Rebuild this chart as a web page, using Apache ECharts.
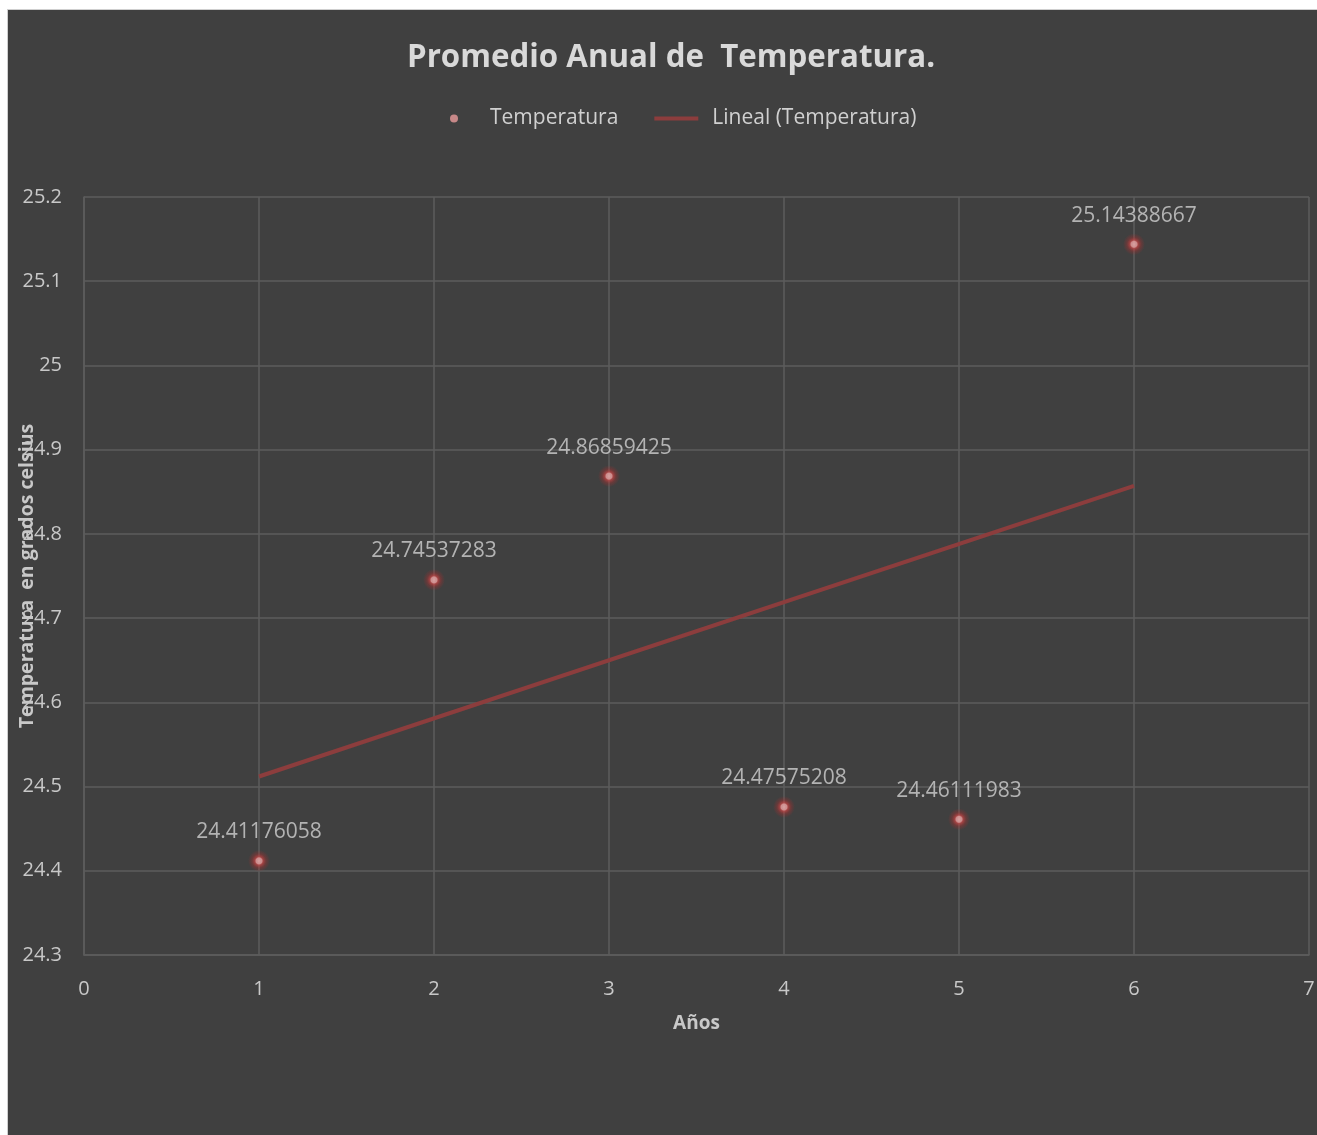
<!DOCTYPE html>
<html>
<head>
<meta charset="utf-8">
<script src="https://cdn.jsdelivr.net/npm/echarts@6/dist/echarts.min.js"></script>
<style>
  html, body { margin: 0; padding: 0; background: #ffffff; }
  #bg { position: absolute; left: 7px; top: 9px; width: 1310px; height: 1126px; background: #404040; border-left: 1px solid #cfcfcf; border-top: 1px solid #cfcfcf; box-sizing: border-box; }
  #chart { position: absolute; left: 0; top: 0; width: 1317px; height: 1135px; }
</style>
</head>
<body>
<div id="bg"></div>
<div id="chart"></div>
<script>
const years = [1, 2, 3, 4, 5, 6];
const temperatures = [24.41176058, 24.74537283, 24.86859425, 24.47575208, 24.46111983, 25.14388667];
const xTicks = [0, 1, 2, 3, 4, 5, 6, 7];
const yTicks = [24.3, 24.4, 24.5, 24.6, 24.7, 24.8, 24.9, 25, 25.1, 25.2];

// Linear trendline (least squares) from the data
const n = years.length;
const mx = years.reduce((a, b) => a + b, 0) / n;
const my = temperatures.reduce((a, b) => a + b, 0) / n;
let sxy = 0, sxx = 0;
for (let i = 0; i < n; i++) { sxy += (years[i] - mx) * (temperatures[i] - my); sxx += (years[i] - mx) ** 2; }
const slope = sxy / sxx;
const intercept = my - slope * mx;
const trend = [years[0], years[n - 1]].map(x => [x, intercept + slope * x]);

const FONT = 'Open Sans';
const glow = {
  type: 'radial', x: 0.5, y: 0.5, r: 0.5,
  colorStops: [
    { offset: 0, color: '#f6b4b4' },
    { offset: 0.27, color: '#f0a0a0' },
    { offset: 0.38, color: 'rgba(210,70,70,0.85)' },
    { offset: 0.65, color: 'rgba(190,45,45,0.4)' },
    { offset: 1, color: 'rgba(190,45,45,0)' }
  ]
};
const chart = echarts.init(document.getElementById('chart'));
chart.setOption({
  backgroundColor: 'transparent',
  textStyle: { fontFamily: FONT },
  title: {
    text: 'Promedio Anual de  Temperatura.',
    left: 402, top: 38,
    textStyle: { color: '#d9d9d9', fontSize: 31.3, fontWeight: 'bold', fontFamily: FONT }
  },
  legend: {
    top: 103, left: 445,
    itemWidth: 44, itemHeight: 8, itemGap: 36,
    textStyle: { color: '#d0d0d0', fontSize: 21, fontFamily: FONT, padding: [0, 0, 0, 9] },
    data: [
      { name: 'Temperatura', icon: 'circle', itemStyle: { color: '#e89a9a' } },
      { name: 'Lineal (Temperatura)', icon: 'path://M0,0 L44,0 L44,4 L0,4 Z', itemStyle: { color: '#8c3d3d' } }
    ]
  },
  grid: { left: 84, right: 8, top: 197, bottom: 180, containLabel: false, outerBoundsMode: 'none' },
  xAxis: {
    type: 'value', min: xTicks[0], max: xTicks[xTicks.length - 1], interval: 1,
    name: 'Años', nameLocation: 'middle', nameGap: 59, nameMoveOverlap: false,
    nameTextStyle: { color: '#c8c8c8', fontSize: 19, fontWeight: 'bold', fontFamily: FONT },
    axisLine: { lineStyle: { color: '#5c5c5c', width: 1.5 } },
    axisTick: { show: false },
    splitLine: { show: true, lineStyle: { color: '#5c5c5c', width: 1.5 } },
    axisLabel: { color: '#c8c8c8', fontSize: 20, margin: 24, fontFamily: FONT }
  },
  yAxis: {
    type: 'value', min: yTicks[0], max: yTicks[yTicks.length - 1], interval: 0.1,
    name: 'Temperatura  en grados celsius', nameLocation: 'middle', nameGap: 47, nameMoveOverlap: false,
    nameTextStyle: { color: '#c8c8c8', fontSize: 19.5, fontWeight: 'bold', fontFamily: FONT },
    axisLine: { show: true, lineStyle: { color: '#5c5c5c', width: 1.5 } },
    axisTick: { show: false },
    splitLine: { show: true, lineStyle: { color: '#5c5c5c', width: 1.5 } },
    axisLabel: { color: '#c8c8c8', fontSize: 20, margin: 22, fontFamily: FONT,
      formatter: v => String(+v.toFixed(1)) }
  },
  series: [
    {
      name: 'Lineal (Temperatura)', type: 'line', data: trend,
      symbol: 'none', showSymbol: false,
      lineStyle: { color: '#8c3d3d', width: 4 }, itemStyle: { color: '#8c3d3d' },
      z: 2, silent: true
    },
    {
      name: 'Temperatura', type: 'scatter',
      data: years.map((x, i) => [x, temperatures[i]]),
      symbolSize: 22,
      itemStyle: { color: glow },
      label: {
        show: true, position: 'top', distance: 7,
        color: '#d0d0d0', fontSize: 21, fontFamily: FONT,
        formatter: p => String(temperatures[p.dataIndex])
      },
      z: 3
    }
  ]
});
</script>
</body>
</html>
